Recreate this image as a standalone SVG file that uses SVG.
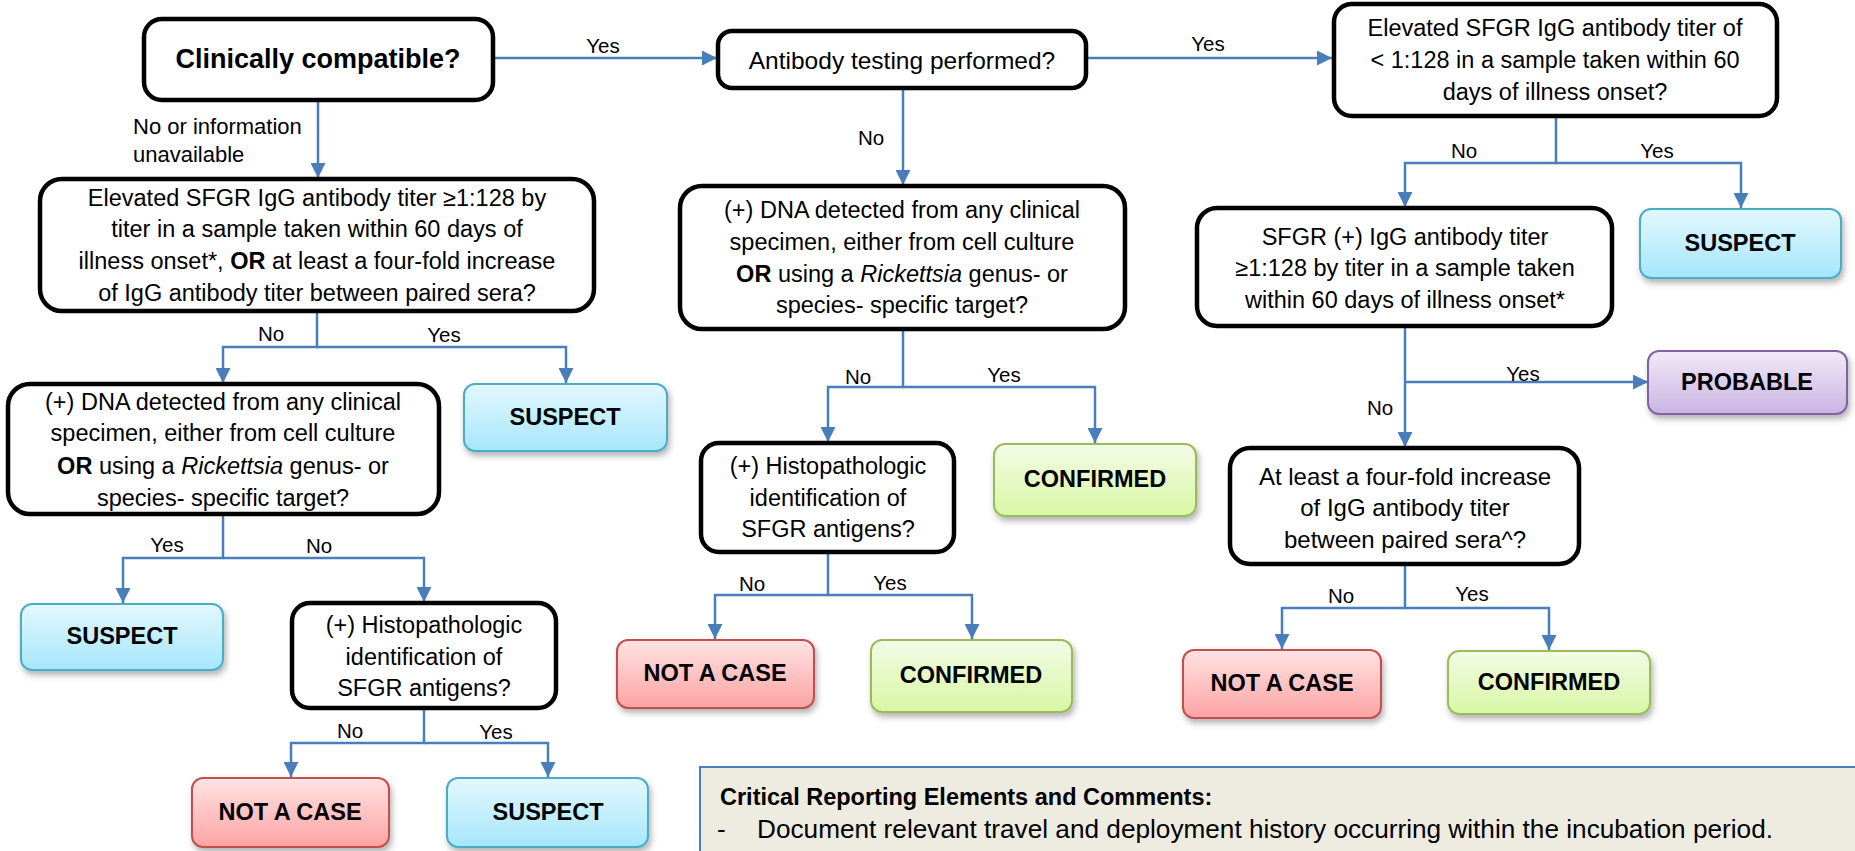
<svg xmlns="http://www.w3.org/2000/svg" width="1855" height="851" viewBox="0 0 1855 851">
<defs>
<style>
text{font-family:"Liberation Sans",Arial,sans-serif;fill:#000;}
.dec{fill:#fff;stroke:#000;stroke-width:4.5;}
.t{font-size:23.5px;text-anchor:middle;dominant-baseline:central;}
.big{font-size:27px;font-weight:bold;text-anchor:middle;dominant-baseline:central;}
.res{font-size:23.5px;font-weight:bold;text-anchor:middle;dominant-baseline:central;}
.lbl{font-size:20.5px;text-anchor:middle;dominant-baseline:central;}
.conn path{fill:none;stroke:#4A7EBB;stroke-width:2.5;}
.arr{marker-end:url(#ah);}
.sus{fill:url(#gSus);stroke:#4BACC6;stroke-width:2;filter:url(#sh);}
.con{fill:url(#gCon);stroke:#9BBB59;stroke-width:2;filter:url(#sh);}
.nac{fill:url(#gNac);stroke:#C0504D;stroke-width:2;filter:url(#sh);}
.pro{fill:url(#gPro);stroke:#8064A2;stroke-width:2;filter:url(#sh);}
</style>
<marker id="ah" viewBox="0 0 10 10" refX="10" refY="5" markerUnits="userSpaceOnUse" markerWidth="15" markerHeight="15" orient="auto">
<path d="M0,0 L10,5 L0,10 z" fill="#4A7EBB"/>
</marker>
<linearGradient id="gSus" x1="0" y1="0" x2="0" y2="1"><stop offset="0" stop-color="#E3F8FE"/><stop offset="1" stop-color="#A6E6FB"/></linearGradient>
<linearGradient id="gCon" x1="0" y1="0" x2="0" y2="1"><stop offset="0" stop-color="#F3FBE6"/><stop offset="1" stop-color="#D8F7A4"/></linearGradient>
<linearGradient id="gNac" x1="0" y1="0" x2="0" y2="1"><stop offset="0" stop-color="#FFE3E3"/><stop offset="1" stop-color="#FCA3A3"/></linearGradient>
<linearGradient id="gPro" x1="0" y1="0" x2="0" y2="1"><stop offset="0" stop-color="#F1EAF7"/><stop offset="1" stop-color="#CAB4E2"/></linearGradient>
<filter id="sh" x="-10%" y="-10%" width="125%" height="140%"><feDropShadow dx="2" dy="4" stdDeviation="3" flood-color="#000" flood-opacity="0.3"/></filter>
</defs>
<rect width="1855" height="851" fill="#fff"/>

<g class="conn">
<path class="arr" d="M318,100 V178"/>
<path class="arr" d="M495,58 H717"/>
<path class="arr" d="M1087,58 H1332"/>
<path class="arr" d="M903,89 V185"/>
<path class="arr" d="M317,312 V347 H223 V383"/>
<path class="arr" d="M317,347 H566 V383"/>
<path class="arr" d="M223,515 V558 H123 V603"/>
<path class="arr" d="M223,558 H424 V602"/>
<path class="arr" d="M424,709 V743 H291 V777"/>
<path class="arr" d="M424,743 H548 V777"/>
<path class="arr" d="M903,330 V387 H828 V442"/>
<path class="arr" d="M903,387 H1095 V443"/>
<path class="arr" d="M828,553 V595 H715 V639"/>
<path class="arr" d="M828,595 H972 V639"/>
<path class="arr" d="M1556,117 V163 H1405 V207"/>
<path class="arr" d="M1556,163 H1741 V208"/>
<path class="arr" d="M1405,326 V447"/>
<path class="arr" d="M1405,382 H1648"/>
<path class="arr" d="M1405,565 V608 H1282 V649"/>
<path class="arr" d="M1405,608 H1549 V650"/>
<text class="lbl" x="603" y="45">Yes</text>
<text class="lbl" x="1208" y="43">Yes</text>
<text class="lbl" x="133" y="126" style="text-anchor:start;font-size:22px">No or information</text>
<text class="lbl" x="133" y="154" style="text-anchor:start;font-size:22px">unavailable</text>
<text class="lbl" x="871" y="137">No</text>
<text class="lbl" x="271" y="333">No</text>
<text class="lbl" x="444" y="334">Yes</text>
<text class="lbl" x="167" y="544">Yes</text>
<text class="lbl" x="319" y="545">No</text>
<text class="lbl" x="350" y="730">No</text>
<text class="lbl" x="496" y="731">Yes</text>
<text class="lbl" x="858" y="376">No</text>
<text class="lbl" x="1004" y="374">Yes</text>
<text class="lbl" x="752" y="583">No</text>
<text class="lbl" x="890" y="582">Yes</text>
<text class="lbl" x="1464" y="150">No</text>
<text class="lbl" x="1657" y="150">Yes</text>
<text class="lbl" x="1523" y="373">Yes</text>
<text class="lbl" x="1380" y="407">No</text>
<text class="lbl" x="1341" y="595">No</text>
<text class="lbl" x="1472" y="593">Yes</text>
</g>

<g id="clinically">
<rect class="dec" x="144" y="19" width="349" height="81" rx="18"/>
<text class="big" x="318" y="59">Clinically compatible?</text>
</g>
<g id="antibody-testing">
<rect class="dec" x="718" y="31" width="368" height="57" rx="14"/>
<text class="t" x="902" y="60" style="font-size:24.5px">Antibody testing performed?</text>
</g>
<g id="titer-low">
<rect class="dec" x="1334" y="4" width="443" height="112" rx="18"/>
<text class="t" x="1555" y="28">Elevated SFGR IgG antibody titer of</text>
<text class="t" x="1555" y="60">&lt; 1:128 in a sample taken within 60</text>
<text class="t" x="1555" y="92">days of illness onset?</text>
</g>
<g id="titer-high-left">
<rect class="dec" x="40" y="179" width="554" height="132" rx="22"/>
<text class="t" x="317" y="198">Elevated SFGR IgG antibody titer ≥1:128 by</text>
<text class="t" x="317" y="229">titer in a sample taken within 60 days of</text>
<text class="t" x="317" y="261">illness onset*, <tspan font-weight="bold">OR</tspan> at least a four-fold increase</text>
<text class="t" x="317" y="293">of IgG antibody titer between paired sera?</text>
</g>
<g id="suspect-1">
<rect class="sus" x="464" y="384" width="203" height="67" rx="11"/>
<text class="res" x="565" y="417">SUSPECT</text>
</g>
<g id="dna-left">
<rect class="dec" x="8" y="384" width="431" height="130" rx="22"/>
<text class="t" x="223" y="402">(+) DNA detected from any clinical</text>
<text class="t" x="223" y="433">specimen, either from cell culture</text>
<text class="t" x="223" y="466"><tspan font-weight="bold">OR</tspan> using a <tspan font-style="italic">Rickettsia</tspan> genus- or</text>
<text class="t" x="223" y="498">species- specific target?</text>
</g>
<g id="suspect-2">
<rect class="sus" x="21" y="604" width="202" height="66" rx="11"/>
<text class="res" x="122" y="636">SUSPECT</text>
</g>
<g id="histo-left">
<rect class="dec" x="292" y="603" width="264" height="105" rx="18"/>
<text class="t" x="424" y="625">(+) Histopathologic</text>
<text class="t" x="424" y="657">identification of</text>
<text class="t" x="424" y="688">SFGR antigens?</text>
</g>
<g id="notcase-1">
<rect class="nac" x="192" y="778" width="197" height="69" rx="11"/>
<text class="res" x="290" y="812">NOT A CASE</text>
</g>
<g id="suspect-3">
<rect class="sus" x="447" y="778" width="201" height="69" rx="11"/>
<text class="res" x="548" y="812">SUSPECT</text>
</g>
<g id="dna-center">
<rect class="dec" x="680" y="186" width="445" height="143" rx="22"/>
<text class="t" x="902" y="210">(+) DNA detected from any clinical</text>
<text class="t" x="902" y="242">specimen, either from cell culture</text>
<text class="t" x="902" y="274"><tspan font-weight="bold">OR</tspan> using a <tspan font-style="italic">Rickettsia</tspan> genus- or</text>
<text class="t" x="902" y="305">species- specific target?</text>
</g>
<g id="histo-center">
<rect class="dec" x="701" y="443" width="253" height="109" rx="18"/>
<text class="t" x="828" y="466">(+) Histopathologic</text>
<text class="t" x="828" y="498">identification of</text>
<text class="t" x="828" y="529">SFGR antigens?</text>
</g>
<g id="confirmed-1">
<rect class="con" x="994" y="444" width="202" height="72" rx="11"/>
<text class="res" x="1095" y="479">CONFIRMED</text>
</g>
<g id="notcase-2">
<rect class="nac" x="617" y="640" width="197" height="68" rx="11"/>
<text class="res" x="715" y="673">NOT A CASE</text>
</g>
<g id="confirmed-2">
<rect class="con" x="871" y="640" width="201" height="72" rx="11"/>
<text class="res" x="971" y="675">CONFIRMED</text>
</g>
<g id="sfgr-positive">
<rect class="dec" x="1197" y="208" width="415" height="118" rx="20"/>
<text class="t" x="1405" y="237">SFGR (+) IgG antibody titer</text>
<text class="t" x="1405" y="268">≥1:128 by titer in a sample taken</text>
<text class="t" x="1405" y="300">within 60 days of illness onset*</text>
</g>
<g id="suspect-4">
<rect class="sus" x="1640" y="209" width="201" height="69" rx="11"/>
<text class="res" x="1740" y="243">SUSPECT</text>
</g>
<g id="probable">
<rect class="pro" x="1648" y="351" width="199" height="63" rx="11"/>
<text class="res" x="1747" y="382">PROBABLE</text>
</g>
<g id="fourfold">
<rect class="dec" x="1230" y="448" width="349" height="116" rx="20"/>
<text class="t" x="1405" y="476" style="font-size:24px">At least a four-fold increase</text>
<text class="t" x="1405" y="507" style="font-size:24px">of IgG antibody titer</text>
<text class="t" x="1405" y="539" style="font-size:24px">between paired sera^?</text>
</g>
<g id="notcase-3">
<rect class="nac" x="1183" y="650" width="198" height="68" rx="11"/>
<text class="res" x="1282" y="683">NOT A CASE</text>
</g>
<g id="confirmed-3">
<rect class="con" x="1448" y="651" width="202" height="63" rx="11"/>
<text class="res" x="1549" y="682">CONFIRMED</text>
</g>
<g id="critical">
<rect x="700" y="767" width="1170" height="100" fill="#EEECE1" stroke="#4A7EBB" stroke-width="2"/>
<text x="720" y="797" font-size="23.5" font-weight="bold" dominant-baseline="central">Critical Reporting Elements and Comments:</text>
<text x="717" y="829" font-size="26" dominant-baseline="central">-</text>
<text x="757" y="829" font-size="26" dominant-baseline="central" textLength="1016" lengthAdjust="spacingAndGlyphs">Document relevant travel and deployment history occurring within the incubation period.</text>
</g>
</svg>
